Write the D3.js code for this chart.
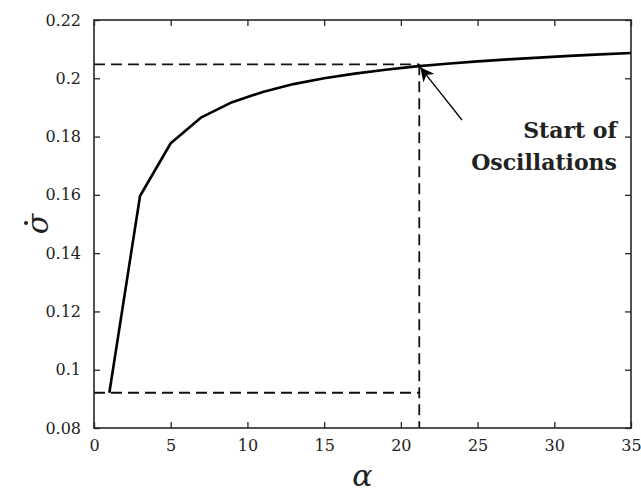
<!DOCTYPE html>
<html>
<head>
<meta charset="utf-8">
<script src="https://cdn.jsdelivr.net/npm/d3@7.9.0/dist/d3.min.js"></script>
<style>
body{margin:0;background:#fff;}
svg{display:block;}
text{font-family:'DejaVu Serif',serif;fill:#222;}
</style>
</head>
<body>
<svg width="641" height="492"></svg>
<script>
// alpha vs. sigma-dot curve
const alphaVals=[1,3,5,7,9,11,13,15,17,19,21,23,25,27,29,31,33,35];
const sigmaDot=[0.0921,0.1596,0.1777,0.1866,0.1918,0.1953,0.1980,0.2000,0.2016,0.2029,0.2041,0.2050,0.2058,0.2065,0.2071,0.2077,0.2082,0.2087];
const xTicks=[0,5,10,15,20,25,30,35];
const yTicks=[0.08,0.1,0.12,0.14,0.16,0.18,0.2,0.22];
// onset marker
const onsetAlpha=21.2,onsetSigma=0.2048,baseSigma=0.0921;
const noteLines=['Start of','Oscillations'];

const svg=d3.select('svg');
const m={l:94,r:631,t:20,b:428};
const x=d3.scaleLinear().domain([0,35]).range([m.l,m.r]);
const y=d3.scaleLinear().domain([0.08,0.22]).range([m.b,m.t]);
const fmt=d=>String(+d.toFixed(2));

svg.append('defs').append('marker').attr('id','head').attr('viewBox','0 0 10 10')
 .attr('refX',10).attr('refY',5).attr('markerWidth',14).attr('markerHeight',14)
 .attr('markerUnits','userSpaceOnUse').attr('orient','auto')
 .append('path').attr('d','M0,0L10,5L0,10L3,5Z').attr('fill','#000');

// dashed guides
const dash=svg.append('g').attr('stroke','#111').attr('stroke-width',1.8).attr('stroke-dasharray','11,6').attr('fill','none');
dash.append('line').attr('x1',x(0)).attr('x2',x(onsetAlpha)).attr('y1',y(onsetSigma)).attr('y2',y(onsetSigma));
dash.append('line').attr('x1',x(0)).attr('x2',x(onsetAlpha)).attr('y1',y(baseSigma)).attr('y2',y(baseSigma));
dash.append('line').attr('x1',x(onsetAlpha)).attr('x2',x(onsetAlpha)).attr('y1',y(onsetSigma)).attr('y2',y(0.08));

// curve
svg.append('path').datum(alphaVals.map((a,i)=>[a,sigmaDot[i]]))
 .attr('fill','none').attr('stroke','#000').attr('stroke-width',2.6).attr('stroke-linejoin','round')
 .attr('d',d3.line().x(d=>x(d[0])).y(d=>y(d[1])));

// axes, ticks inward on all sides
const ax=(g,a)=>{g.call(a);g.attr('font-family',null);g.select('.domain').remove();g.selectAll('line').attr('stroke','#262626').attr('stroke-width',1.3);g.selectAll('text').attr('font-size',16).attr('fill','#222');};
svg.append('g').attr('transform',`translate(0,${m.b})`).call(g=>ax(g,d3.axisBottom(x).tickValues(xTicks).tickSize(-6).tickPadding(12).tickFormat(fmt)));
svg.append('g').attr('transform',`translate(0,${m.t})`).call(g=>ax(g,d3.axisTop(x).tickValues(xTicks).tickSize(-6).tickFormat('')));
svg.append('g').attr('transform',`translate(${m.l},0)`).call(g=>ax(g,d3.axisLeft(y).tickValues(yTicks).tickSize(-6).tickPadding(13).tickFormat(fmt)));
svg.append('g').attr('transform',`translate(${m.r},0)`).call(g=>ax(g,d3.axisRight(y).tickValues(yTicks).tickSize(-6).tickFormat('')));
svg.append('rect').attr('x',m.l).attr('y',m.t).attr('width',m.r-m.l).attr('height',m.b-m.t)
 .attr('fill','none').attr('stroke','#262626').attr('stroke-width',1.6);

// axis labels
svg.append('text').attr('x',x(17.5)).attr('y',486).attr('text-anchor','middle')
 .attr('font-size',30).attr('font-style','italic').text('α');
const yl=svg.append('g').attr('transform',`translate(48,${y(0.15)}) rotate(-90)`);
yl.append('text').attr('text-anchor','middle').attr('font-size',30).attr('font-style','italic').text('σ');
yl.append('circle').attr('cx',1).attr('cy',-22).attr('r',2).attr('fill','#222');

// annotation
svg.append('line').attr('x1',462).attr('y1',120).attr('x2',x(onsetAlpha)+1).attr('y2',y(onsetSigma)+3)
 .attr('stroke','#000').attr('stroke-width',1.3).attr('marker-end','url(#head)');
svg.append('text').attr('x',617).attr('y',138).attr('text-anchor','end')
 .attr('font-size',22).attr('font-weight','bold').attr('fill','#111')
 .selectAll('tspan').data(noteLines).join('tspan').attr('x',617).attr('dy',(d,i)=>i?32:0).text(d=>d);
</script>
</body>
</html>
